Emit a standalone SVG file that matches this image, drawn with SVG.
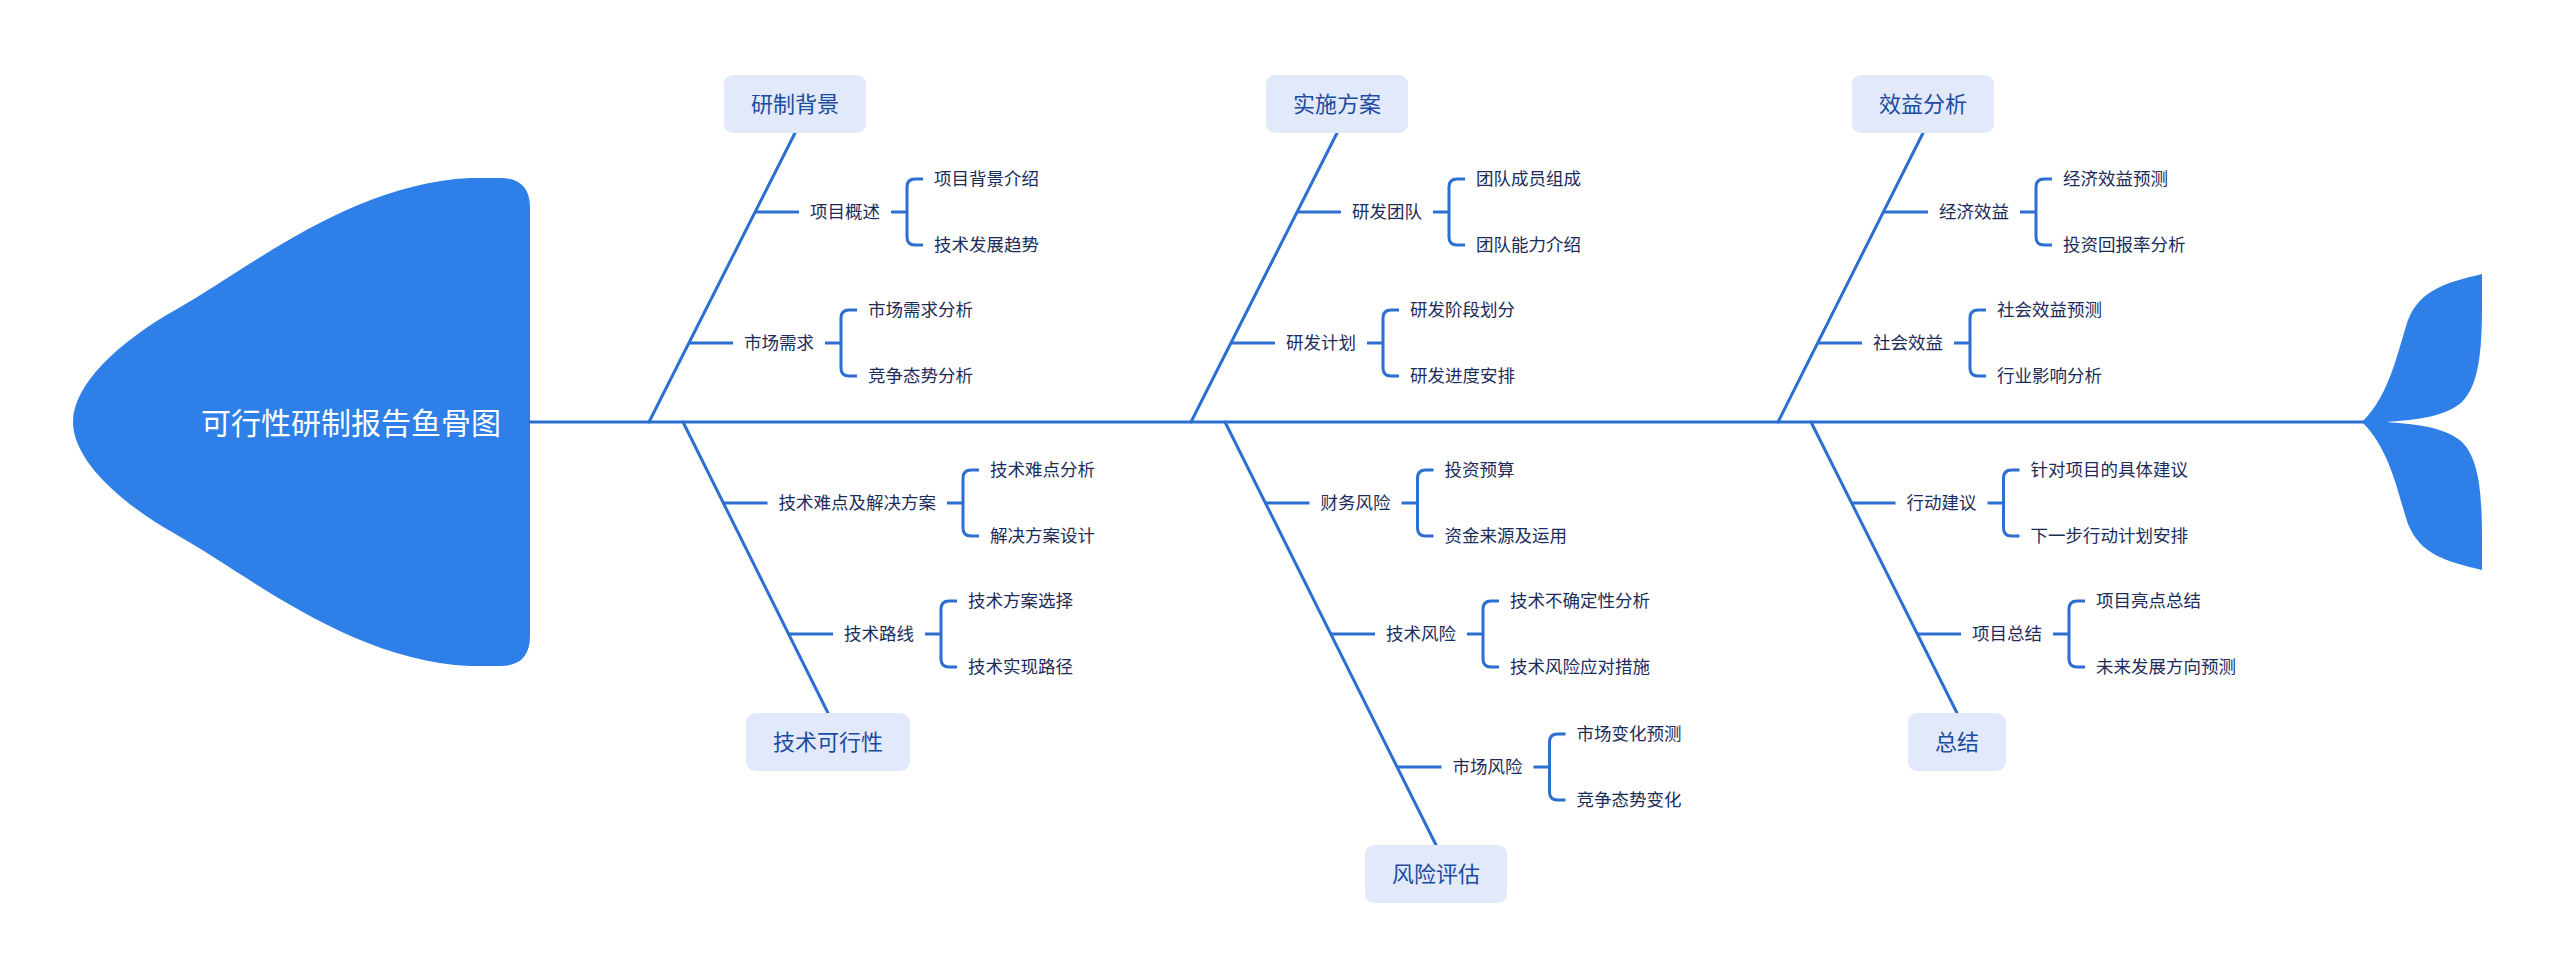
<svg xmlns="http://www.w3.org/2000/svg" width="2560" height="978" viewBox="0 0 2560 978">
<defs>
<style>
.bone{stroke:#2c6fd1;stroke-width:3;fill:none;stroke-linecap:round}
.ln{stroke:#2c6fd1;stroke-width:3;fill:none}
.br{stroke:#2c6fd1;stroke-width:3;fill:none}
.box{fill:#e1e9fb}
.lbl{font-family:"Noto Sans CJK SC","Noto Sans",sans-serif;font-size:22px;fill:#1d4b9d;text-anchor:middle;dominant-baseline:central}
.t{font-family:"Noto Sans CJK SC","Noto Sans",sans-serif;font-size:17.5px;fill:#1c2c5a;dominant-baseline:central}
.head{fill:#2f7fe8}
</style>
</defs>
<rect width="2560" height="978" fill="#ffffff"/>

<g id="head">
<path class="head" d="M73,422 C73,385 118,342 177,309 C250,268 350,184 470,178 L500,178 Q530,178 530,208 L530,636 Q530,666 500,666 L470,666 C350,660 250,576 177,535 C118,502 73,459 73,422 Z"/>
<text x="351" y="421" style="font-family:'Noto Sans CJK SC','Noto Sans',sans-serif;font-size:30px;fill:#ffffff;text-anchor:middle;dominant-baseline:central">可行性研制报告鱼骨图</text>
</g>

<g id="tail">
<path class="head" d="M2362,422 C2390,395 2398,350 2408,320 C2420,290 2445,283 2482,274 C2482,330 2484,380 2462,402 C2445,418 2410,420 2387,422 C2410,424 2445,426 2462,442 C2484,464 2482,514 2482,570 C2445,561 2420,554 2408,524 C2398,494 2390,449 2362,422 Z"/>
</g>

<g id="connectors">
<line class="ln" x1="528" y1="422" x2="2364" y2="422"/>
<line class="bone" x1="649" y1="422" x2="795" y2="133"/>
<line class="bone" x1="1191" y1="422" x2="1337" y2="133"/>
<line class="bone" x1="1778" y1="422" x2="1923" y2="133"/>
<line class="bone" x1="683" y1="422" x2="828" y2="713"/>
<line class="bone" x1="1225" y1="422" x2="1436" y2="845"/>
<line class="bone" x1="1811" y1="422" x2="1957" y2="713"/>

<path class="ln" d="M755,212 H799 M689,343 H733 M723.5,503 H767.5 M789,634 H833 M1297,212 H1341 M1231,343 H1275 M1265.5,503 H1309.5 M1331,634 H1375 M1397.5,767 H1441.5 M1884,212 H1928 M1818,343 H1862 M1851.5,503 H1895.5 M1917,634 H1961"/>
<path class="ln" d="M891,212 H907 M825,343 H841 M947,503 H963 M925,634 H941 M1433,212 H1449 M1367,343 H1383 M1401.5,503 H1417.5 M1467,634 H1483 M1533.5,767 H1549.5 M2020,212 H2036 M1954,343 H1970 M1987.5,503 H2003.5 M2053,634 H2069"/>
<path class="br" d="M923,179 H915 Q907,179 907,187 V237 Q907,245 915,245 H923"/>
<path class="br" d="M857,310 H849 Q841,310 841,318 V368 Q841,376 849,376 H857"/>
<path class="br" d="M979,470 H971 Q963,470 963,478 V528 Q963,536 971,536 H979"/>
<path class="br" d="M957,601 H949 Q941,601 941,609 V659 Q941,667 949,667 H957"/>
<path class="br" d="M1465,179 H1457 Q1449,179 1449,187 V237 Q1449,245 1457,245 H1465"/>
<path class="br" d="M1399,310 H1391 Q1383,310 1383,318 V368 Q1383,376 1391,376 H1399"/>
<path class="br" d="M1433.5,470 H1425.5 Q1417.5,470 1417.5,478 V528 Q1417.5,536 1425.5,536 H1433.5"/>
<path class="br" d="M1499,601 H1491 Q1483,601 1483,609 V659 Q1483,667 1491,667 H1499"/>
<path class="br" d="M1565.5,734 H1557.5 Q1549.5,734 1549.5,742 V792 Q1549.5,800 1557.5,800 H1565.5"/>
<path class="br" d="M2052,179 H2044 Q2036,179 2036,187 V237 Q2036,245 2044,245 H2052"/>
<path class="br" d="M1986,310 H1978 Q1970,310 1970,318 V368 Q1970,376 1978,376 H1986"/>
<path class="br" d="M2019.5,470 H2011.5 Q2003.5,470 2003.5,478 V528 Q2003.5,536 2011.5,536 H2019.5"/>
<path class="br" d="M2085,601 H2077 Q2069,601 2069,609 V659 Q2069,667 2077,667 H2085"/>
</g>

<g id="cat-yanzhibeijing">
<rect class="box" x="724" y="75" width="142" height="58" rx="9"/>
<text class="lbl" x="795" y="102">研制背景</text>
</g>
<g id="cat-shishifangan">
<rect class="box" x="1266" y="75" width="142" height="58" rx="9"/>
<text class="lbl" x="1337" y="102">实施方案</text>
</g>
<g id="cat-xiaoyifenxi">
<rect class="box" x="1852" y="75" width="142" height="58" rx="9"/>
<text class="lbl" x="1923" y="102">效益分析</text>
</g>
<g id="cat-jishukexingxing">
<rect class="box" x="746" y="713" width="164" height="58" rx="9"/>
<text class="lbl" x="828" y="740">技术可行性</text>
</g>
<g id="cat-fengxianpinggu">
<rect class="box" x="1365" y="845" width="142" height="58" rx="9"/>
<text class="lbl" x="1436" y="872">风险评估</text>
</g>
<g id="cat-zongjie">
<rect class="box" x="1908" y="713" width="98" height="58" rx="9"/>
<text class="lbl" x="1957" y="740">总结</text>
</g>

<g id="sub-xiangmugaishu" transform="translate(0,-1.5)">
<text class="t" x="810" y="212">项目概述</text>
<text class="t" x="934" y="179">项目背景介绍</text>
<text class="t" x="934" y="245">技术发展趋势</text>
</g>
<g id="sub-shichangxuqiu" transform="translate(0,-1.5)">
<text class="t" x="744" y="343">市场需求</text>
<text class="t" x="868" y="310">市场需求分析</text>
<text class="t" x="868" y="376">竞争态势分析</text>
</g>
<g id="sub-jishunandian" transform="translate(0,-1.5)">
<text class="t" x="778.5" y="503">技术难点及解决方案</text>
<text class="t" x="990" y="470">技术难点分析</text>
<text class="t" x="990" y="536">解决方案设计</text>
</g>
<g id="sub-jishuluxian" transform="translate(0,-1.5)">
<text class="t" x="844" y="634">技术路线</text>
<text class="t" x="968" y="601">技术方案选择</text>
<text class="t" x="968" y="667">技术实现路径</text>
</g>
<g id="sub-yanfatuandui" transform="translate(0,-1.5)">
<text class="t" x="1352" y="212">研发团队</text>
<text class="t" x="1476" y="179">团队成员组成</text>
<text class="t" x="1476" y="245">团队能力介绍</text>
</g>
<g id="sub-yanfajihua" transform="translate(0,-1.5)">
<text class="t" x="1286" y="343">研发计划</text>
<text class="t" x="1410" y="310">研发阶段划分</text>
<text class="t" x="1410" y="376">研发进度安排</text>
</g>
<g id="sub-caiwufengxian" transform="translate(0,-1.5)">
<text class="t" x="1320.5" y="503">财务风险</text>
<text class="t" x="1444.5" y="470">投资预算</text>
<text class="t" x="1444.5" y="536">资金来源及运用</text>
</g>
<g id="sub-jishufengxian" transform="translate(0,-1.5)">
<text class="t" x="1386" y="634">技术风险</text>
<text class="t" x="1510" y="601">技术不确定性分析</text>
<text class="t" x="1510" y="667">技术风险应对措施</text>
</g>
<g id="sub-shichangfengxian" transform="translate(0,-1.5)">
<text class="t" x="1452.5" y="767">市场风险</text>
<text class="t" x="1576.5" y="734">市场变化预测</text>
<text class="t" x="1576.5" y="800">竞争态势变化</text>
</g>
<g id="sub-jingjixiaoyi" transform="translate(0,-1.5)">
<text class="t" x="1939" y="212">经济效益</text>
<text class="t" x="2063" y="179">经济效益预测</text>
<text class="t" x="2063" y="245">投资回报率分析</text>
</g>
<g id="sub-shehuixiaoyi" transform="translate(0,-1.5)">
<text class="t" x="1873" y="343">社会效益</text>
<text class="t" x="1997" y="310">社会效益预测</text>
<text class="t" x="1997" y="376">行业影响分析</text>
</g>
<g id="sub-xingdongjianyi" transform="translate(0,-1.5)">
<text class="t" x="1906.5" y="503">行动建议</text>
<text class="t" x="2030.5" y="470">针对项目的具体建议</text>
<text class="t" x="2030.5" y="536">下一步行动计划安排</text>
</g>
<g id="sub-xiangmuzongjie" transform="translate(0,-1.5)">
<text class="t" x="1972" y="634">项目总结</text>
<text class="t" x="2096" y="601">项目亮点总结</text>
<text class="t" x="2096" y="667">未来发展方向预测</text>
</g>
</svg>
